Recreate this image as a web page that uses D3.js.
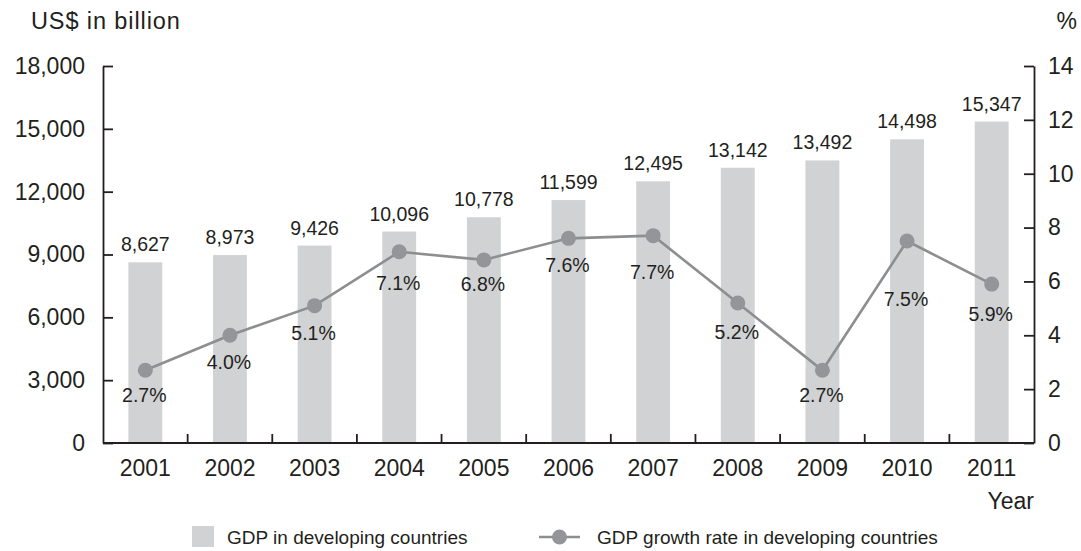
<!DOCTYPE html>
<html>
<head>
<meta charset="utf-8">
<script src="https://cdn.jsdelivr.net/npm/d3@7"></script>
<style>
  html, body { margin: 0; padding: 0; background: #fff; }
  svg { display: block; font-family: "Liberation Sans", Arial, Helvetica, sans-serif; }
</style>
</head>
<body>
<svg id="chart" width="1081" height="551"></svg>
<script>
// GDP of developing countries, 2001-2011
const years = ["2001", "2002", "2003", "2004", "2005", "2006", "2007", "2008", "2009", "2010", "2011"];
const gdpValues = [8627, 8973, 9426, 10096, 10778, 11599, 12495, 13142, 13492, 14498, 15347];
const growthRates = [2.7, 4.0, 5.1, 7.1, 6.8, 7.6, 7.7, 5.2, 2.7, 7.5, 5.9];
const gdpTicks = [0, 3000, 6000, 9000, 12000, 15000, 18000];
const rateTicks = [0, 2, 4, 6, 8, 10, 12, 14];
// vertical offset of each growth-rate label beneath its point
const rateLabelDy = [32, 34, 34, 38, 31, 34, 43, 36, 32, 65, 37];

const ink = "#231f20";
const barColor = "#d1d2d4";
const lineColor = "#8d8e90";
const dotColor = "#939598";

const svg = d3.select("#chart");
const plot = { left: 103, right: 1034, top: 66, bottom: 443 };

const x = d3.scaleBand().domain(years).range([plot.left, plot.right]);
const yGdp = d3.scaleLinear().domain([0, 18000]).range([plot.bottom, plot.top]);
const yRate = d3.scaleLinear().domain([0, 14]).range([plot.bottom, plot.top]);
const barW = x.bandwidth() * 0.4;
const cx = d => x(d) + x.bandwidth() / 2;

// bars
svg.append("g").selectAll("rect")
  .data(years)
  .join("rect")
  .attr("x", d => cx(d) - barW / 2)
  .attr("y", (d, i) => yGdp(gdpValues[i]))
  .attr("width", barW)
  .attr("height", (d, i) => plot.bottom - yGdp(gdpValues[i]))
  .attr("fill", barColor);

// bar value labels
svg.append("g").selectAll("text")
  .data(years)
  .join("text")
  .attr("x", d => cx(d))
  .attr("y", (d, i) => yGdp(gdpValues[i]) - 11)
  .attr("text-anchor", "middle")
  .attr("font-size", 19.5)
  .attr("fill", ink)
  .text((d, i) => d3.format(",")(gdpValues[i]));

// growth rate line
const line = d3.line()
  .x((d, i) => cx(years[i]))
  .y(d => yRate(d));
svg.append("path")
  .datum(growthRates)
  .attr("d", line)
  .attr("fill", "none")
  .attr("stroke", lineColor)
  .attr("stroke-width", 2.6);

svg.append("g").selectAll("circle")
  .data(growthRates)
  .join("circle")
  .attr("cx", (d, i) => cx(years[i]))
  .attr("cy", d => yRate(d))
  .attr("r", 7.5)
  .attr("fill", dotColor);

svg.append("g").selectAll("text")
  .data(growthRates)
  .join("text")
  .attr("x", (d, i) => cx(years[i]) - 1)
  .attr("y", (d, i) => yRate(d) + rateLabelDy[i])
  .attr("text-anchor", "middle")
  .attr("font-size", 19.5)
  .attr("fill", ink)
  .text(d => d.toFixed(1) + "%");

// axes
const styleAxis = g => {
  g.selectAll("path, line").attr("stroke", ink).attr("stroke-width", 1.8);
  g.selectAll("text").attr("fill", ink).attr("font-size", 23)
    .attr("font-family", "Liberation Sans, Arial, sans-serif");
};

svg.append("g")
  .attr("transform", `translate(${plot.left},0)`)
  .call(d3.axisLeft(yGdp).tickValues(gdpTicks).tickSizeInner(-10).tickSizeOuter(0)
    .tickPadding(18).tickFormat(d3.format(",")))
  .call(styleAxis);

svg.append("g")
  .attr("transform", `translate(${plot.right},0)`)
  .call(d3.axisRight(yRate).tickValues(rateTicks).tickSizeInner(-10).tickSizeOuter(0)
    .tickPadding(14))
  .call(styleAxis);

// category axis: labels at band centres, ticks at band boundaries
const xAxis = svg.append("g")
  .attr("transform", `translate(0,${plot.bottom})`)
  .call(d3.axisBottom(x).tickSize(0).tickPadding(17))
  .call(styleAxis);
xAxis.select(".domain").attr("d", `M${plot.left},0H${plot.right}`);

svg.append("g").selectAll("line")
  .data(years.slice(1))
  .join("line")
  .attr("x1", d => x(d))
  .attr("x2", d => x(d))
  .attr("y1", plot.bottom)
  .attr("y2", plot.bottom - 9)
  .attr("stroke", ink)
  .attr("stroke-width", 1.8);

// axis titles
svg.append("text").attr("x", 31).attr("y", 29)
  .attr("font-size", 23.5).attr("letter-spacing", 0.9).attr("fill", ink).text("US$ in billion");
svg.append("text").attr("x", 1077).attr("y", 29).attr("text-anchor", "end")
  .attr("font-size", 23).attr("fill", ink).text("%");
svg.append("text").attr("x", plot.right).attr("y", 509).attr("text-anchor", "end")
  .attr("font-size", 23).attr("fill", ink).text("Year");

// legend
const legend = svg.append("g").attr("font-size", 19).attr("fill", ink);
legend.append("rect").attr("x", 192).attr("y", 526).attr("width", 22).attr("height", 21)
  .attr("fill", barColor);
legend.append("text").attr("x", 227).attr("y", 544).text("GDP in developing countries");
legend.append("line").attr("x1", 539).attr("x2", 580).attr("y1", 537).attr("y2", 537)
  .attr("stroke", lineColor).attr("stroke-width", 2.6);
legend.append("circle").attr("cx", 559.5).attr("cy", 537).attr("r", 7.5).attr("fill", dotColor);
legend.append("text").attr("x", 597).attr("y", 544).text("GDP growth rate in developing countries");
</script>
</body>
</html>
